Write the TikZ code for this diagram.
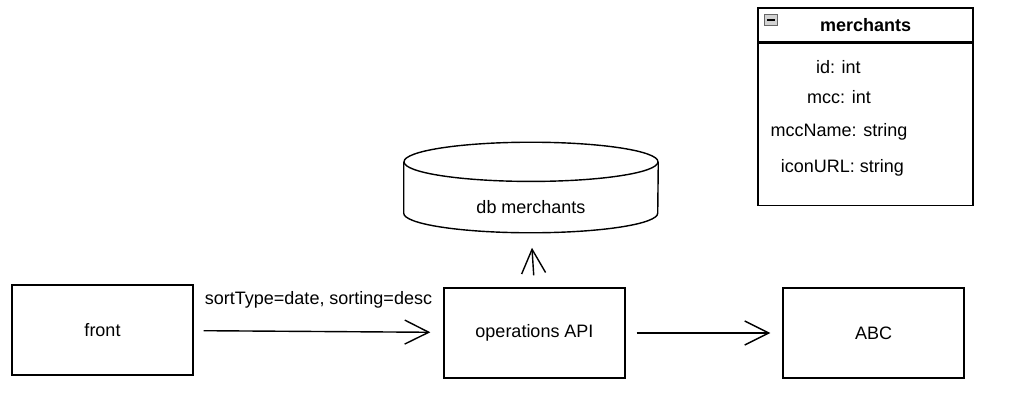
\documentclass[tikz,border=0pt]{standalone}
\usepackage{fontspec}
\setmainfont{Liberation Sans}
\usepackage{tikz}
\usetikzlibrary{arrows.meta,shapes,positioning}

\begin{document}
\begin{tikzpicture}[auto,node distance=1.5cm,
  every node/.style={font=\fontsize{12.8}{15.4}\selectfont},
  box/.style={draw,line width=1pt,minimum width=4.525cm,minimum height=2.25cm},
  >={Straight Barb[length=0.6cm,width=0.6cm,line width=1pt]}]
  \useasboundingbox (0,0) rectangle (25.75,-10.275);

  \node[box] (front) at (2.5625,-8.25) {front};
  \node[box] (api) at (13.3625,-8.325) {operations API};
  \node[box] (abc) at (21.8375,-8.325) {ABC};

  % db cylinder
  \node[minimum width=6.35cm,minimum height=2.25cm,inner sep=0pt] (db) at (13.275,-4.6875) {};
  \draw[line width=1pt] ([yshift=-0.49cm]db.north west) -- ([yshift=0.49cm]db.south west)
    arc[start angle=180,end angle=360,x radius=3.175cm,y radius=0.49cm]
    -- ([yshift=-0.49cm]db.north east);
  \draw[line width=1pt] ([yshift=-0.49cm]db.north) ellipse[x radius=3.175cm,y radius=0.49cm];
  \node (dbtext) at (13.275,-5.175) {db merchants};

  % table
  \node[draw,line width=1pt,minimum width=5.375cm,minimum height=0.85cm,font=\fontsize{12.8}{15.4}\selectfont\bfseries] (merchants) at (21.6375,-0.625) {merchants};
  \node[draw,line width=1pt,minimum width=5.375cm,minimum height=4.05cm,below=0pt of merchants] (fields) {};
  \node[draw=gray!80!black,fill=gray!35,minimum width=0.32cm,minimum height=0.27cm,inner sep=0pt] (icon) at (19.275,-0.5) {};
  \draw[line width=1pt] ([xshift=0.07cm]icon.west) -- ([xshift=-0.07cm]icon.east);
  \node (id) at (20.96,-1.675) {id: int};
  \node (mcc) at (20.975,-2.425) {mcc: int};
  \node (mccname) at (20.975,-3.3) {mccName: string};
  \node (icon url) at (21.06,-4.2) {iconURL: string};

  \draw[->,line width=1pt,shorten <=0.25cm,shorten >=0.325cm] (front) -- node[above=0.45cm] {sortType=date, sorting=desc} (api);
  \draw[->,line width=1pt,shorten <=0.275cm,shorten >=0.3cm] (api) -- (abc);
  \draw[->,line width=1pt,shorten <=0.3cm,shorten >=0.375cm] (api.north) -- (db.south);
\end{tikzpicture}
\end{document}
